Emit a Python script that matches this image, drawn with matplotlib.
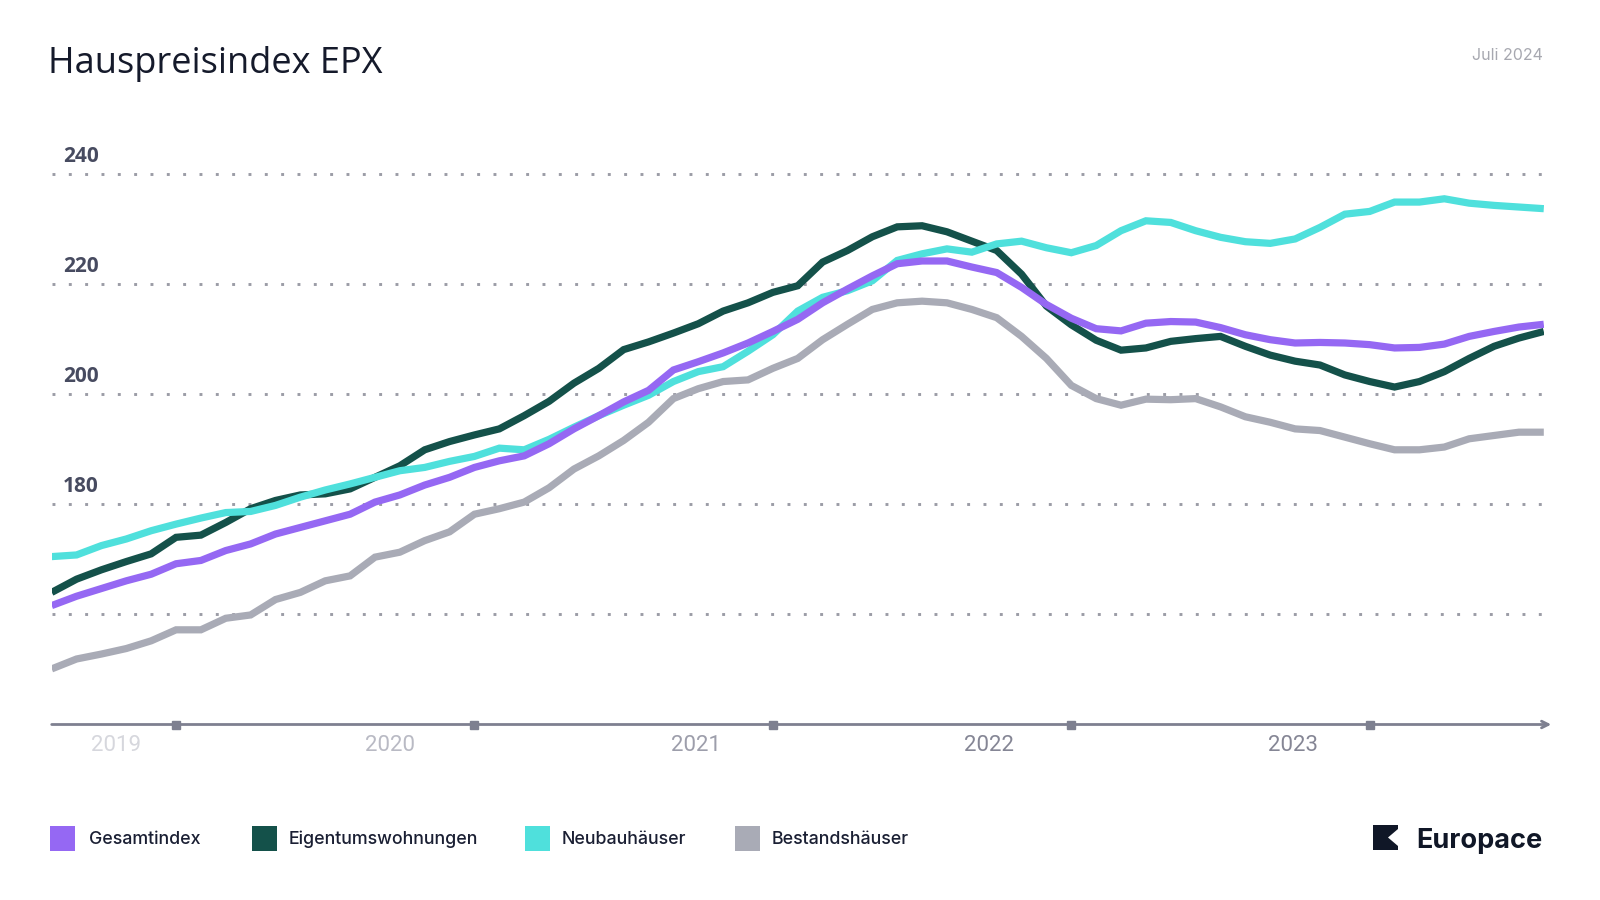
import numpy as np
import pandas as pd
import matplotlib
matplotlib.use('Agg')
import matplotlib.pyplot as plt
from matplotlib.patches import Rectangle, Polygon

# ── Data: EPX monthly index, Jul 2019 – Jul 2024 ──────────────────────────────
months = pd.period_range('2019-07', '2024-07', freq='M')

gesamtindex = [
    161.6, 163.3, 164.7, 166.1, 167.3, 169.2, 169.8, 171.6, 172.8, 174.6,
    175.8, 177.0, 178.2, 180.4, 181.7, 183.5, 184.9, 186.7, 187.9, 188.8,
    191.0, 193.7, 196.1, 198.6, 200.7, 204.4, 205.9, 207.5, 209.3, 211.4,
    213.6, 216.6, 219.1, 221.5, 223.7, 224.2, 224.2, 223.1, 222.1, 219.4,
    216.3, 213.8, 211.9, 211.5, 212.9, 213.2, 213.1, 212.1, 210.8, 209.9,
    209.3, 209.4, 209.3, 209.0, 208.4, 208.5, 209.1, 210.5, 211.4, 212.2,
    212.7,
]
eigentumswohnungen = [
    164.0, 166.4, 168.1, 169.6, 171.0, 174.0, 174.4, 176.7, 179.2, 180.7,
    181.7, 181.9, 182.8, 184.9, 187.0, 189.9, 191.4, 192.6, 193.7, 196.1,
    198.7, 202.0, 204.7, 208.1, 209.5, 211.1, 212.8, 215.1, 216.6, 218.5,
    219.7, 224.0, 226.1, 228.6, 230.4, 230.6, 229.5, 227.8, 226.1, 221.8,
    216.0, 212.6, 209.8, 208.0, 208.4, 209.6, 210.1, 210.5, 208.7, 207.1,
    206.0, 205.3, 203.5, 202.3, 201.3, 202.3, 204.1, 206.5, 208.7, 210.2,
    211.4,
]
neubauhaeuser = [
    170.5, 170.8, 172.5, 173.7, 175.2, 176.4, 177.5, 178.5, 178.7, 179.8,
    181.3, 182.6, 183.7, 184.9, 186.1, 186.7, 187.8, 188.7, 190.2, 189.9,
    191.8, 194.0, 196.1, 198.0, 199.8, 202.3, 204.1, 205.0, 207.8, 210.8,
    215.1, 217.6, 218.8, 220.6, 224.3, 225.5, 226.4, 225.8, 227.3, 227.8,
    226.6, 225.7, 227.0, 229.7, 231.5, 231.2, 229.7, 228.5, 227.7, 227.4,
    228.2, 230.3, 232.7, 233.2, 234.9, 234.9, 235.5, 234.7, 234.3, 234.0,
    233.7,
]
bestandshaeuser = [
    150.1, 151.9, 152.8, 153.8, 155.2, 157.2, 157.2, 159.3, 159.9, 162.7,
    164.0, 166.1, 167.0, 170.4, 171.3, 173.4, 175.0, 178.2, 179.2, 180.4,
    183.0, 186.4, 188.8, 191.6, 194.9, 199.2, 201.0, 202.3, 202.6, 204.7,
    206.5, 209.9, 212.7, 215.4, 216.6, 216.9, 216.6, 215.4, 213.9, 210.5,
    206.5, 201.6, 199.2, 198.0, 199.1, 199.0, 199.2, 197.7, 195.9, 194.9,
    193.7, 193.4, 192.2, 191.0, 189.9, 189.9, 190.4, 191.9, 192.5, 193.1,
    193.1,
]

series_names  = ['Gesamtindex', 'Eigentumswohnungen', 'Neubauhäuser', 'Bestandshäuser']
series_values = [gesamtindex, eigentumswohnungen, neubauhaeuser, bestandshaeuser]
series_colors = ['#9568f3', '#14514a', '#4fe0dc', '#a9abb6']
series_z      = [5, 3, 4, 2]

y_grid   = [160, 180, 200, 220, 240]
y_labels = [180, 200, 220, 240]
year_labels  = ['2019', '2020', '2021', '2022', '2023']
year_pos     = [2.6, 13.6, 25.9, 37.7, 49.9]
year_colors  = ['#d6d7dd', '#b9bac4', '#9d9eab', '#858695', '#858695']
tick_pos     = [5, 17, 29, 41, 53]

# ── Figure ─────────────────────────────────────────────────────────────────────
W, H = 1600, 900
fig = plt.figure(figsize=(16, 9), dpi=100)
fig.patch.set_facecolor('white')

x = np.arange(len(months))
x0, x1 = 51.7, 1543.8
y_bot_px, px_per_unit = 724.5, 5.505
ymin, ymax = 140, 245
ax = fig.add_axes([x0 / W, (H - y_bot_px) / H,
                   (x1 - x0) / W, (ymax - ymin) * px_per_unit / H])
ax.set_xlim(0, len(months) - 1)
ax.set_ylim(ymin, ymax)
ax.axis('off')

# dotted grid
for g in y_grid:
    ax.plot([0, len(months) - 1], [g, g], color='#9b9ca6', lw=2.1,
            linestyle=(0, (1, 4.6)), zorder=1)

for g in y_labels:
    ax.text(0.45, g + 1.3, str(g), fontsize=15, fontweight='bold',
            family=['Open Sans', 'DejaVu Sans'], color='#474b60', ha='left', va='bottom')

for name, vals, col, z in zip(series_names, series_values, series_colors, series_z):
    ax.plot(x, vals, color=col, lw=5.2, solid_joinstyle='miter',
            solid_capstyle='butt', zorder=z, label=name)

# x axis with arrow
ax.annotate('', xy=(len(months) - 1 + 0.3, ymin), xytext=(0, ymin),
            arrowprops=dict(arrowstyle='->', color='#7e8090', lw=2.0,
                            shrinkA=0, shrinkB=0, mutation_scale=12),
            annotation_clip=False)
ax.plot(tick_pos, [ymin] * len(tick_pos), 's', color='#7e8090', ms=5.2,
        clip_on=False, zorder=6)
for lab, xp, c in zip(year_labels, year_pos, year_colors):
    ax.text(xp, ymin - 3.9, lab, fontsize=16, color=c, family=['Roboto', 'DejaVu Sans'],
            ha='center', va='center', clip_on=False)

# title + date
fig.text(48 / W, 1 - 64 / H, 'Hauspreisindex EPX', fontsize=26,
         family=['Open Sans', 'DejaVu Sans'], color='#151a2b', ha='left', va='center')
fig.text(1543 / W, 1 - 56 / H, 'Juli 2024', fontsize=11.5,
         family=['Inter', 'DejaVu Sans'], color='#a7a8b0', ha='right', va='center')

# legend
leg_sq_x  = [50, 252, 525, 735]
leg_txt_x = [89, 289, 562, 772]
leg_y = 838
for name, col, sx, tx in zip(series_names, series_colors, leg_sq_x, leg_txt_x):
    fig.add_artist(Rectangle((sx / W, 1 - (leg_y + 12.5) / H), 25 / W, 25 / H,
                             transform=fig.transFigure, color=col, lw=0))
    fig.text(tx / W, 1 - (leg_y + 1.5) / H, name, fontsize=12.8, fontweight='medium',
             family=['Inter', 'DejaVu Sans'], color='#1a1f33', ha='left', va='center')

# Europace logo
fig.add_artist(Rectangle((1373 / W, 1 - 850 / H), 25 / W, 25 / H,
                         transform=fig.transFigure, color='#101727', lw=0))
fig.add_artist(Polygon([[1398 / W, 1 - 829 / H], [1388 / W, 1 - 837.5 / H],
                        [1398 / W, 1 - 846 / H]],
                       closed=True, transform=fig.transFigure, color='white', lw=0))
fig.text(1543 / W, 1 - 841 / H, 'Europace', fontsize=19.5, fontweight='bold',
         family=['Inter', 'DejaVu Sans'], color='#101727', ha='right', va='center')

fig.savefig('out.png', dpi=100, facecolor='white')
